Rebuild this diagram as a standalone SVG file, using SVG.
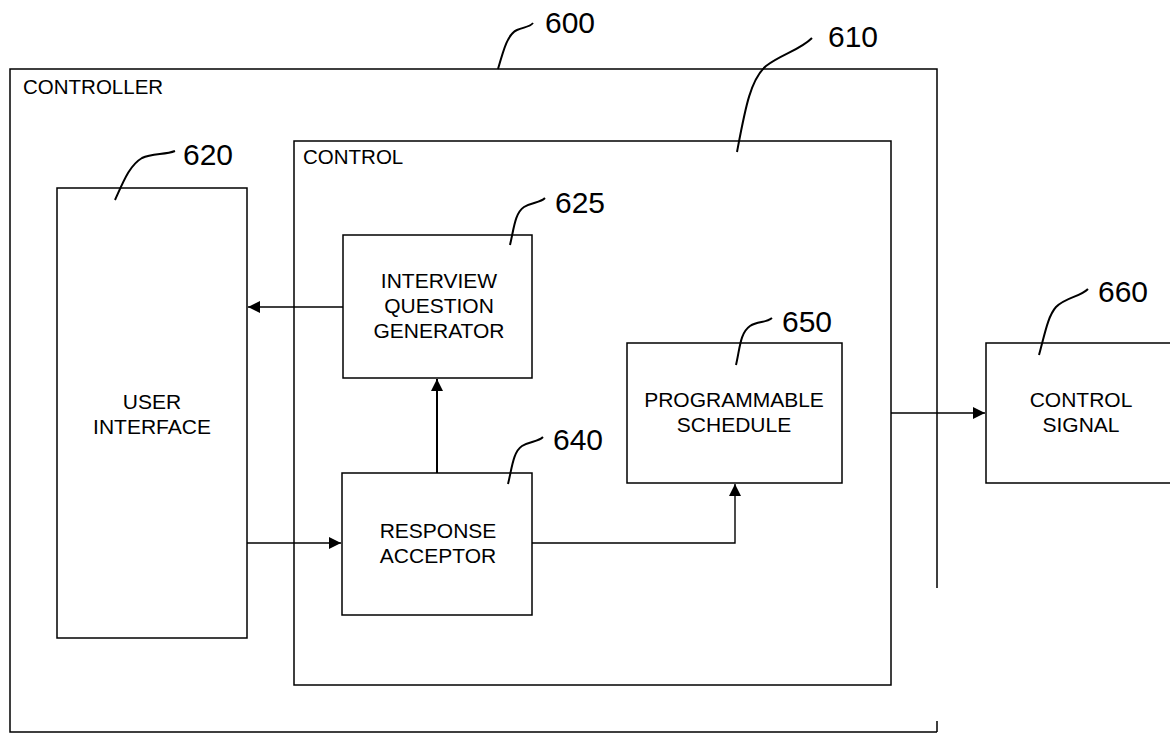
<svg xmlns="http://www.w3.org/2000/svg" width="1170" height="733" viewBox="0 0 1170 733">
<style>
.box{fill:none;stroke:#000;stroke-width:1.5}
.ln{fill:none;stroke:#000;stroke-width:1.4}
.ld{fill:none;stroke:#000;stroke-width:2}
.t{font-family:"Liberation Sans",Arial,sans-serif;font-size:21px;fill:#000;text-anchor:middle}
.tl{font-family:"Liberation Sans",Arial,sans-serif;font-size:20.5px;fill:#000}
.n{font-family:"Liberation Sans",Arial,sans-serif;font-size:30px;fill:#000}
</style>
<defs>
<marker id="ah" viewBox="0 0 12 12" refX="12" refY="6" markerWidth="12" markerHeight="12" markerUnits="userSpaceOnUse" orient="auto">
<path d="M0,0 L12,6 L0,12 Z" fill="#000"/>
</marker>
</defs>
<g id="controller">
<path class="box" d="M937,588 L937,69 L10,69 L10,732 L937,732"/>
<path class="box" d="M937,721 L937,732"/>
<text class="tl" x="23" y="94">CONTROLLER</text>
<text class="n" x="545" y="33">600</text>
<path class="ld" d="M498,69 C504,48 508,34 517,30 C524,27 530,27 533,23"/>
</g>
<g id="control">
<rect class="box" x="294" y="141" width="597" height="544"/>
<text class="tl" x="303" y="164">CONTROL</text>
<text class="n" x="828" y="47">610</text>
<path class="ld" d="M737,152 C745,110 750,80 766,66 C782,54 800,50 812,38"/>
</g>
<g id="user-interface">
<rect class="box" x="57" y="188" width="190" height="450"/>
<text class="t" x="152" y="409">USER</text>
<text class="t" x="152" y="434">INTERFACE</text>
<text class="n" x="183" y="165">620</text>
<path class="ld" d="M115,200 C124,180 130,165 142,158 C152,153 165,155 175,151"/>
</g>
<g id="interview-question-generator">
<rect class="box" x="343" y="235" width="189" height="143"/>
<text class="t" x="439" y="288">INTERVIEW</text>
<text class="t" x="439" y="313">QUESTION</text>
<text class="t" x="439" y="338">GENERATOR</text>
<text class="n" x="555" y="213">625</text>
<path class="ld" d="M510,245 C514,228 515,213 524,207 C532,202 540,203 545,198"/>
</g>
<g id="response-acceptor">
<rect class="box" x="342" y="473" width="190" height="142"/>
<text class="t" x="438" y="538">RESPONSE</text>
<text class="t" x="438" y="563">ACCEPTOR</text>
<text class="n" x="553" y="450">640</text>
<path class="ld" d="M508,484 C512,468 513,452 522,446 C530,441 538,442 543,437"/>
</g>
<g id="programmable-schedule">
<rect class="box" x="627" y="343" width="215" height="140"/>
<text class="t" x="734" y="407">PROGRAMMABLE</text>
<text class="t" x="734" y="432">SCHEDULE</text>
<text class="n" x="782" y="332">650</text>
<path class="ld" d="M736,365 C740,348 740,333 750,326 C758,321 766,323 772,318"/>
</g>
<g id="control-signal">
<path class="box" d="M1175,343 L986,343 L986,483 L1175,483"/>
<text class="t" x="1081" y="407">CONTROL</text>
<text class="t" x="1081" y="432">SIGNAL</text>
<text class="n" x="1098" y="302">660</text>
<path class="ld" d="M1039,355 C1045,333 1048,316 1056,307 C1066,297 1080,297 1088,289"/>
</g>
<g id="connectors">
<path class="ln" d="M343,307 L248,307" marker-end="url(#ah)"/>
<path class="ld" d="M437,473 L437,379" marker-end="url(#ah)"/>
<path class="ln" d="M247,543 L341,543" marker-end="url(#ah)"/>
<path class="ln" d="M532,543 L735,543 L735,484" marker-end="url(#ah)"/>
<path class="ln" d="M891,413 L985,413" marker-end="url(#ah)"/>
</g>
</svg>
